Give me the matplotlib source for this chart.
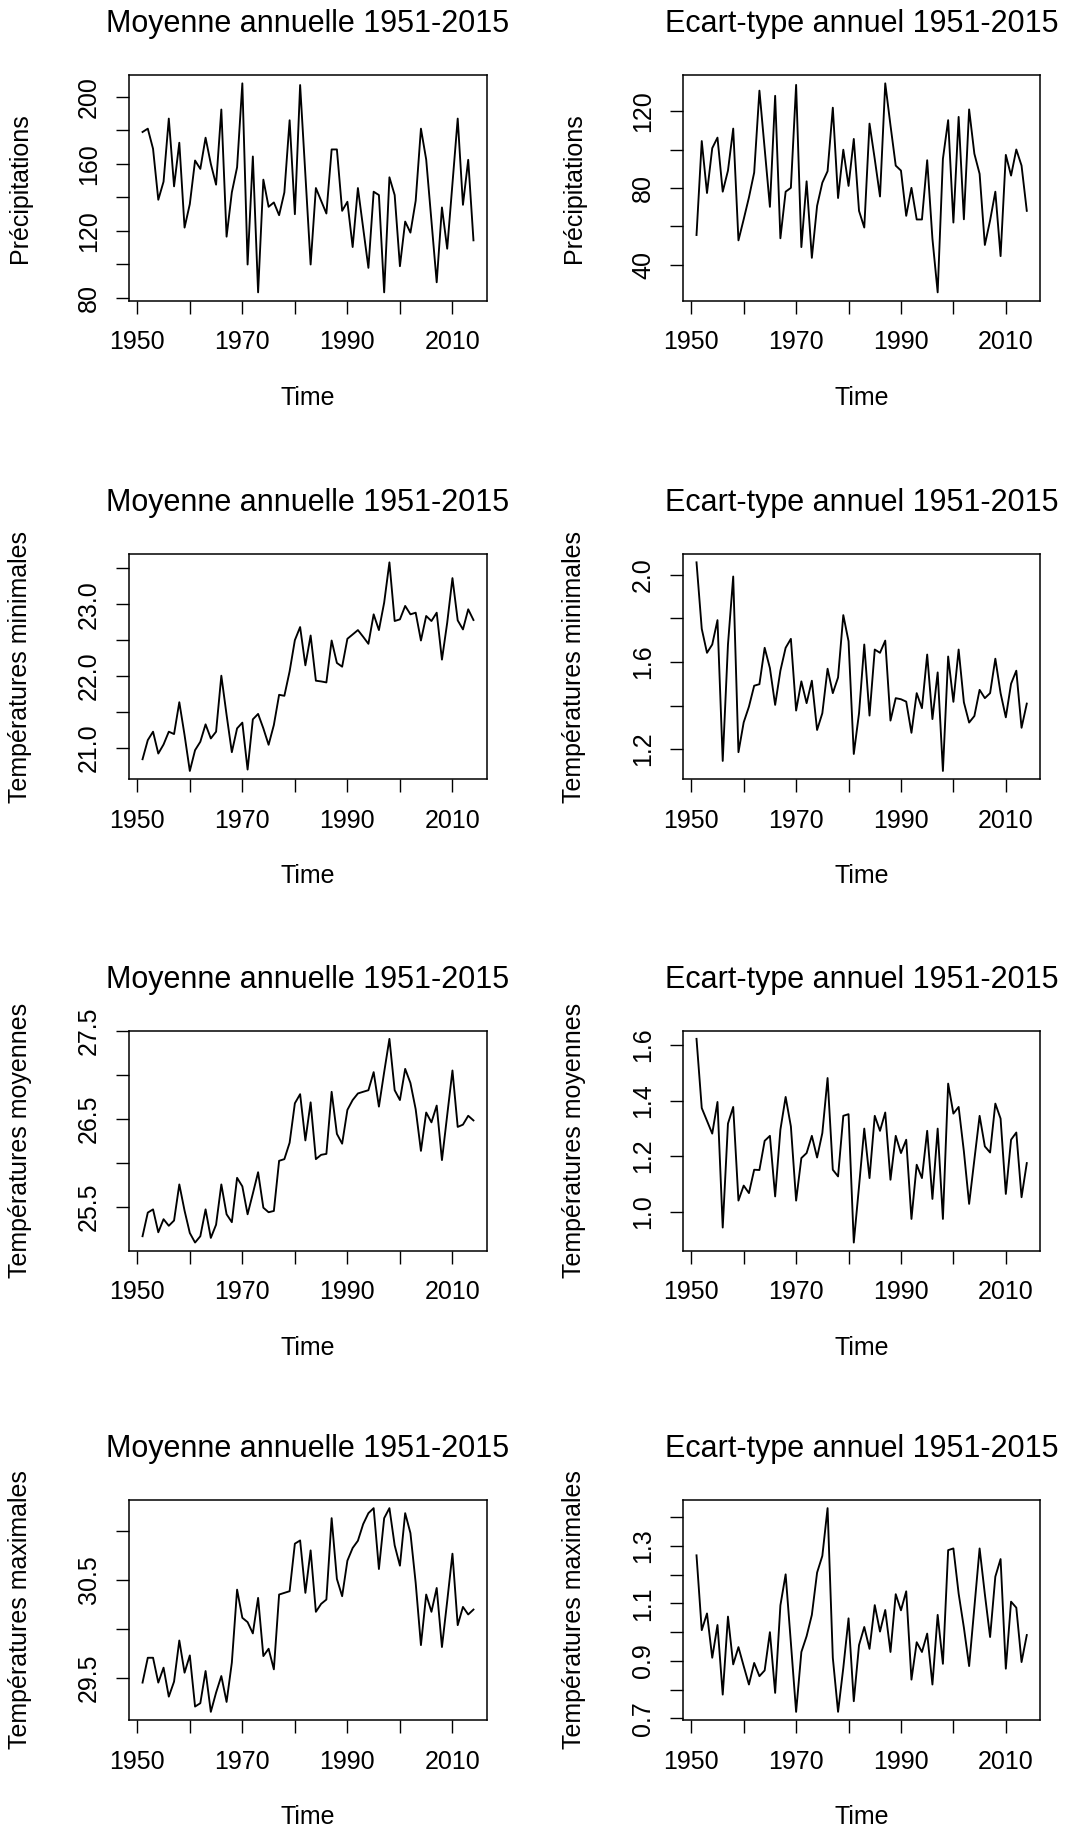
import matplotlib
matplotlib.use("Agg")
import matplotlib.pyplot as plt

plt.rcParams['font.family'] = ['Liberation Sans', 'DejaVu Sans']

years = list(range(1951, 2015))

# Précipitations
p_mean = [179, 181, 169, 138.6, 149.4, 187, 146.6, 172.6, 122, 136,
          162, 157, 175.6, 160, 147.6, 192.4, 116.6, 143, 158, 208,
          100, 164.4, 83.4, 150.6, 134.4, 137, 129.4, 143, 186, 130,
          207, 153.6, 100, 145.6, 138, 130.4, 168.6, 168.6, 132, 137.4,
          110.4, 145.6, 121.8, 98, 143.4, 141.4, 83.4, 152, 141.4, 99,
          125.6, 119, 138, 181, 162.6, 126, 89.4, 134, 109.4, 148.2,
          187, 135.6, 162.4, 114.4]
p_sd = [55.4, 104.4, 77.3, 100.7, 106.2, 78, 89, 110.9, 52.6, 63.6,
        75, 88, 130.7, 100.4, 70.1, 128, 53.7, 78, 80, 133.7,
        49.1, 83.4, 43.5, 70.6, 82.7, 88.7, 121.8, 74.7, 99.9, 81,
        105.5, 68, 59.3, 113.5, 95, 75.5, 134.5, 112.6, 91.6, 89,
        65.4, 80, 63.5, 63.5, 94.4, 53.5, 25.5, 95.1, 115.3, 61.9,
        117, 63.6, 120.9, 97.8, 87.3, 50.2, 63, 78, 44.4, 97.2,
        86.4, 100, 91.6, 68]

# Températures minimales
tmin_mean = [20.845, 21.111, 21.228, 20.924, 21.050, 21.228, 21.195, 21.638, 21.181, 20.682,
             20.971, 21.088, 21.330, 21.134, 21.228, 22.007, 21.461, 20.943, 21.274, 21.354,
             20.701, 21.400, 21.475, 21.274, 21.046, 21.321, 21.741, 21.727, 22.067, 22.501,
             22.683, 22.151, 22.566, 21.937, 21.927, 21.913, 22.496, 22.184, 22.132, 22.520,
             22.580, 22.641, 22.548, 22.450, 22.860, 22.641, 23.023, 23.583, 22.767, 22.790,
             22.977, 22.860, 22.883, 22.496, 22.837, 22.767, 22.883, 22.230, 22.743, 23.364,
             22.776, 22.650, 22.930, 22.781]
tmin_sd = [2.057, 1.752, 1.642, 1.680, 1.792, 1.146, 1.680, 1.992, 1.186, 1.323,
           1.395, 1.491, 1.498, 1.665, 1.572, 1.403, 1.560, 1.665, 1.706, 1.377,
           1.511, 1.411, 1.514, 1.288, 1.365, 1.569, 1.457, 1.529, 1.815, 1.695,
           1.178, 1.365, 1.680, 1.354, 1.657, 1.642, 1.698, 1.331, 1.434, 1.429,
           1.418, 1.275, 1.457, 1.388, 1.634, 1.338, 1.552, 1.100, 1.625, 1.417,
           1.657, 1.415, 1.322, 1.352, 1.472, 1.434, 1.457, 1.615, 1.457, 1.346,
           1.500, 1.560, 1.298, 1.409]

# Températures moyennes
tmoy_mean = [25.162, 25.431, 25.468, 25.207, 25.356, 25.281, 25.341, 25.752, 25.453, 25.199,
             25.090, 25.162, 25.468, 25.143, 25.293, 25.752, 25.412, 25.322, 25.827, 25.730,
             25.412, 25.648, 25.891, 25.487, 25.435, 25.450, 26.021, 26.040, 26.227, 26.676,
             26.780, 26.253, 26.687, 26.040, 26.089, 26.100, 26.807, 26.328, 26.216, 26.601,
             26.713, 26.788, 26.807, 26.825, 27.031, 26.638, 27.031, 27.410, 26.825, 26.713,
             27.068, 26.907, 26.608, 26.134, 26.571, 26.459, 26.650, 26.029, 26.541, 27.050,
             26.407, 26.433, 26.534, 26.481]
tmoy_sd = [1.622, 1.373, 1.327, 1.281, 1.395, 0.943, 1.317, 1.377, 1.040, 1.094,
           1.067, 1.151, 1.150, 1.255, 1.273, 1.055, 1.295, 1.413, 1.307, 1.040,
           1.193, 1.211, 1.273, 1.195, 1.283, 1.481, 1.151, 1.127, 1.345, 1.351,
           0.889, 1.091, 1.299, 1.121, 1.345, 1.291, 1.357, 1.115, 1.273, 1.211,
           1.259, 0.974, 1.169, 1.121, 1.291, 1.046, 1.299, 0.974, 1.461, 1.353,
           1.377, 1.217, 1.028, 1.187, 1.345, 1.235, 1.213, 1.389, 1.335, 1.064,
           1.259, 1.285, 1.052, 1.175]

# Températures maximales
tmax_mean = [29.451, 29.704, 29.704, 29.451, 29.603, 29.308, 29.461, 29.880, 29.552, 29.728,
             29.207, 29.241, 29.569, 29.153, 29.349, 29.518, 29.254, 29.654, 30.398, 30.111,
             30.067, 29.952, 30.314, 29.721, 29.796, 29.586, 30.348, 30.365, 30.382, 30.866,
             30.899, 30.365, 30.798, 30.172, 30.253, 30.297, 31.126, 30.507, 30.331, 30.693,
             30.822, 30.896, 31.065, 31.177, 31.228, 30.608, 31.126, 31.228, 30.849, 30.642,
             31.177, 30.974, 30.466, 29.833, 30.348, 30.172, 30.415, 29.813, 30.280, 30.764,
             30.036, 30.222, 30.145, 30.195]
tmax_sd = [1.267, 1.007, 1.065, 0.911, 1.025, 0.783, 1.054, 0.888, 0.948, 0.882,
           0.818, 0.893, 0.847, 0.867, 1.000, 0.789, 1.093, 1.201, 0.963, 0.723,
           0.931, 0.986, 1.060, 1.207, 1.265, 1.431, 0.911, 0.723, 0.876, 1.048,
           0.760, 0.955, 1.018, 0.942, 1.094, 1.002, 1.077, 0.931, 1.132, 1.076,
           1.142, 0.835, 0.965, 0.931, 0.995, 0.818, 1.060, 0.890, 1.285, 1.291,
           1.134, 1.016, 0.882, 1.086, 1.291, 1.132, 0.983, 1.193, 1.254, 0.873,
           1.106, 1.085, 0.896, 0.990]

x_ticks = [1950, 1960, 1970, 1980, 1990, 2000, 2010]
x_ticklabels = ['1950', '', '1970', '', '1990', '', '2010']

row_names = ['Précipitations', 'Températures minimales',
             'Températures moyennes', 'Températures maximales']
titles = ['Moyenne annuelle 1951-2015', 'Ecart-type annuel 1951-2015']

series = [[p_mean, p_sd], [tmin_mean, tmin_sd],
          [tmoy_mean, tmoy_sd], [tmax_mean, tmax_sd]]

y_ticks = [
    [[80, 100, 120, 140, 160, 180, 200], [40, 60, 80, 100, 120]],
    [[21.0, 21.5, 22.0, 22.5, 23.0, 23.5], [1.2, 1.4, 1.6, 1.8, 2.0]],
    [[25.5, 26.0, 26.5, 27.0, 27.5], [1.0, 1.2, 1.4, 1.6]],
    [[29.5, 30.0, 30.5, 31.0], [0.7, 0.8, 0.9, 1.0, 1.1, 1.2, 1.3, 1.4]],
]
y_ticklabels = [
    [['80', '', '120', '', '160', '', '200'], ['40', '', '80', '', '120']],
    [['21.0', '', '22.0', '', '23.0', ''], ['1.2', '', '1.6', '', '2.0']],
    [['25.5', '', '26.5', '', '27.5'], ['1.0', '1.2', '1.4', '1.6']],
    [['29.5', '', '30.5', ''], ['0.7', '', '0.9', '', '1.1', '', '1.3', '']],
]

# plot boxes in pixels (top, bottom) per row and (left, right) per column
W, H = 1067, 1829
rows = [(75, 300.7), (554, 779.3), (1030.7, 1250.7), (1500, 1720)]
cols = [(129.3, 486.7), (683.3, 1040)]

fig = plt.figure(figsize=(W / 100, H / 100), dpi=100)

for r in range(4):
    top, bottom = rows[r]
    for c in range(2):
        left, right = cols[c]
        w_px, h_px = right - left, bottom - top
        ax = fig.add_axes([left / W, 1 - bottom / H, w_px / W, h_px / H])
        vals = series[r][c]
        ax.plot(years, vals, color='black', linewidth=1.35)

        # R style 4% padding around the data range
        lo, hi = min(vals), max(vals)
        ax.set_ylim(lo - 0.04 * (hi - lo), hi + 0.04 * (hi - lo))
        ax.set_xlim(years[0] - 0.04 * (years[-1] - years[0]),
                    years[-1] + 0.04 * (years[-1] - years[0]))

        ax.set_xticks(x_ticks)
        ax.set_xticklabels(x_ticklabels)
        ax.set_yticks(y_ticks[r][c])
        ax.set_yticklabels(y_ticklabels[r][c], rotation=90, va='center')

        ax.tick_params(axis='both', direction='out', length=9.4, width=1.0,
                       labelsize=18, color='black')
        ax.tick_params(axis='x', pad=12)
        ax.tick_params(axis='y', pad=11)
        for s in ax.spines.values():
            s.set_linewidth(1.1)
            s.set_color('black')

        ax.set_title(titles[c], fontsize=22, pad=30.7)
        ax.set_xlabel('Time', fontsize=18, va='top')
        ax.xaxis.set_label_coords(0.5, -85 / h_px)
        ax.set_ylabel(row_names[r], fontsize=18)
        ax.yaxis.set_label_coords(-97 / w_px, 0.5)

fig.savefig('out.png', dpi=100)
plt.close(fig)
